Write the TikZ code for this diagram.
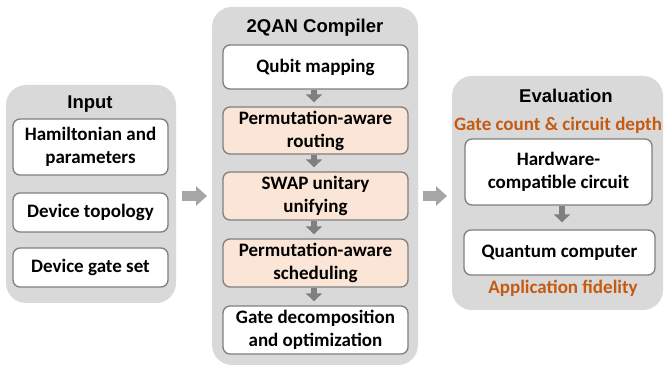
\documentclass[tikz,border=0pt]{standalone}
\usepackage{fontspec}
\setmainfont{Carlito}
\newfontfamily\titlefont{Liberation Sans}
\usetikzlibrary{arrows.meta}
\definecolor{panelgray}{HTML}{D9D9D9}
\definecolor{boxborder}{HTML}{7F7F7F}
\definecolor{boxorange}{HTML}{FBE5D6}
\definecolor{txtorange}{HTML}{C55A11}
\definecolor{bigarrow}{HTML}{A6A6A6}
\definecolor{smallarrow}{HTML}{7F7F7F}
\tikzset{
  panel/.style={fill=panelgray, draw=none, rounded corners=20pt},
  stepbox/.style={draw=boxborder, line width=1.3pt, fill=white, rounded corners=7pt,
    align=center, font=\bfseries\fontsize{19}{23}\selectfont, inner sep=0pt},
  orangebox/.style={stepbox, fill=boxorange},
  ptitle/.style={font=\titlefont\bfseries\fontsize{18.5}{22}\selectfont},
  otext/.style={font=\bfseries\fontsize{19}{23}\selectfont, text=txtorange},
  bigarr/.style={draw=bigarrow, line width=10pt, -{Triangle[width=19pt,length=11pt]}},
  smallarr/.style={draw=smallarrow, line width=6.5pt, -{Triangle[width=16pt,length=8pt]}}
}
\begin{document}
\begin{tikzpicture}[x=1pt,y=-1pt]
\useasboundingbox (0,0) rectangle (665,366);
% panels
\path[panel] (6,85) rectangle (176,303);
\path[panel] (212,7) rectangle (418,365);
\path[panel] (452,76) rectangle (663,310);
\node[coordinate] (inR) at (176,196) {};
\node[coordinate] (cmL) at (212,196) {};
\node[coordinate] (cmR) at (418,196) {};
\node[coordinate] (evL) at (452,196) {};
% titles
\node[ptitle] (tin) at (90,104) {Input};
\node[ptitle] (tcm) at (315,28) {2QAN Compiler};
\node[ptitle] (tev) at (566,96) {Evaluation};
% input boxes
\node[stepbox, minimum width=155pt, minimum height=56pt] (ham) at (90.5,147) {Hamiltonian and\\parameters};
\node[stepbox, minimum width=155pt, minimum height=39pt] (topo) at (90.5,212.5) {Device topology};
\node[stepbox, minimum width=155pt, minimum height=39pt] (gset) at (90.5,267.5) {Device gate set};
% compiler boxes
\node[stepbox, minimum width=185pt, minimum height=44pt] (qm) at (315.5,67) {Qubit mapping};
\node[orangebox, minimum width=185pt, minimum height=47pt] (rt) at (315.5,130.5) {Permutation-aware\\routing};
\node[orangebox, minimum width=185pt, minimum height=48pt] (sw) at (315.5,196) {SWAP unitary\\unifying};
\node[orangebox, minimum width=185pt, minimum height=48pt] (sc) at (315.5,263) {Permutation-aware\\scheduling};
\node[stepbox, minimum width=185pt, minimum height=48pt] (gd) at (315.5,330) {Gate decomposition\\and optimization};
% evaluation
\node[otext] (gc) at (558,125) {Gate count \& circuit depth};
\node[stepbox, minimum width=187pt, minimum height=66pt] (hw) at (558.5,172) {Hardware-\\compatible circuit};
\node[stepbox, minimum width=191pt, minimum height=45pt] (qc) at (559.5,252.5) {Quantum computer};
\node[otext] (af) at (563,288) {Application fidelity};
% arrows
\draw[bigarr, shorten <=6pt, shorten >=5pt] (inR) -- (cmL);
\draw[bigarr, shorten <=5pt, shorten >=5pt] (cmR) -- (evL);
\draw[smallarr, shorten >=4pt] (qm.south -| 314,0) -- (rt.north -| 314,0);
\draw[smallarr, shorten >=4pt] (rt.south -| 314,0) -- (sw.north -| 314,0);
\draw[smallarr, shorten >=4pt] (sw.south -| 314,0) -- (sc.north -| 314,0);
\draw[smallarr, shorten >=4pt] (sc.south -| 314,0) -- (gd.north -| 314,0);
\draw[smallarr, shorten >=7pt] (hw.south -| 562,0) -- (qc.north -| 562,0);
\end{tikzpicture}
\end{document}
